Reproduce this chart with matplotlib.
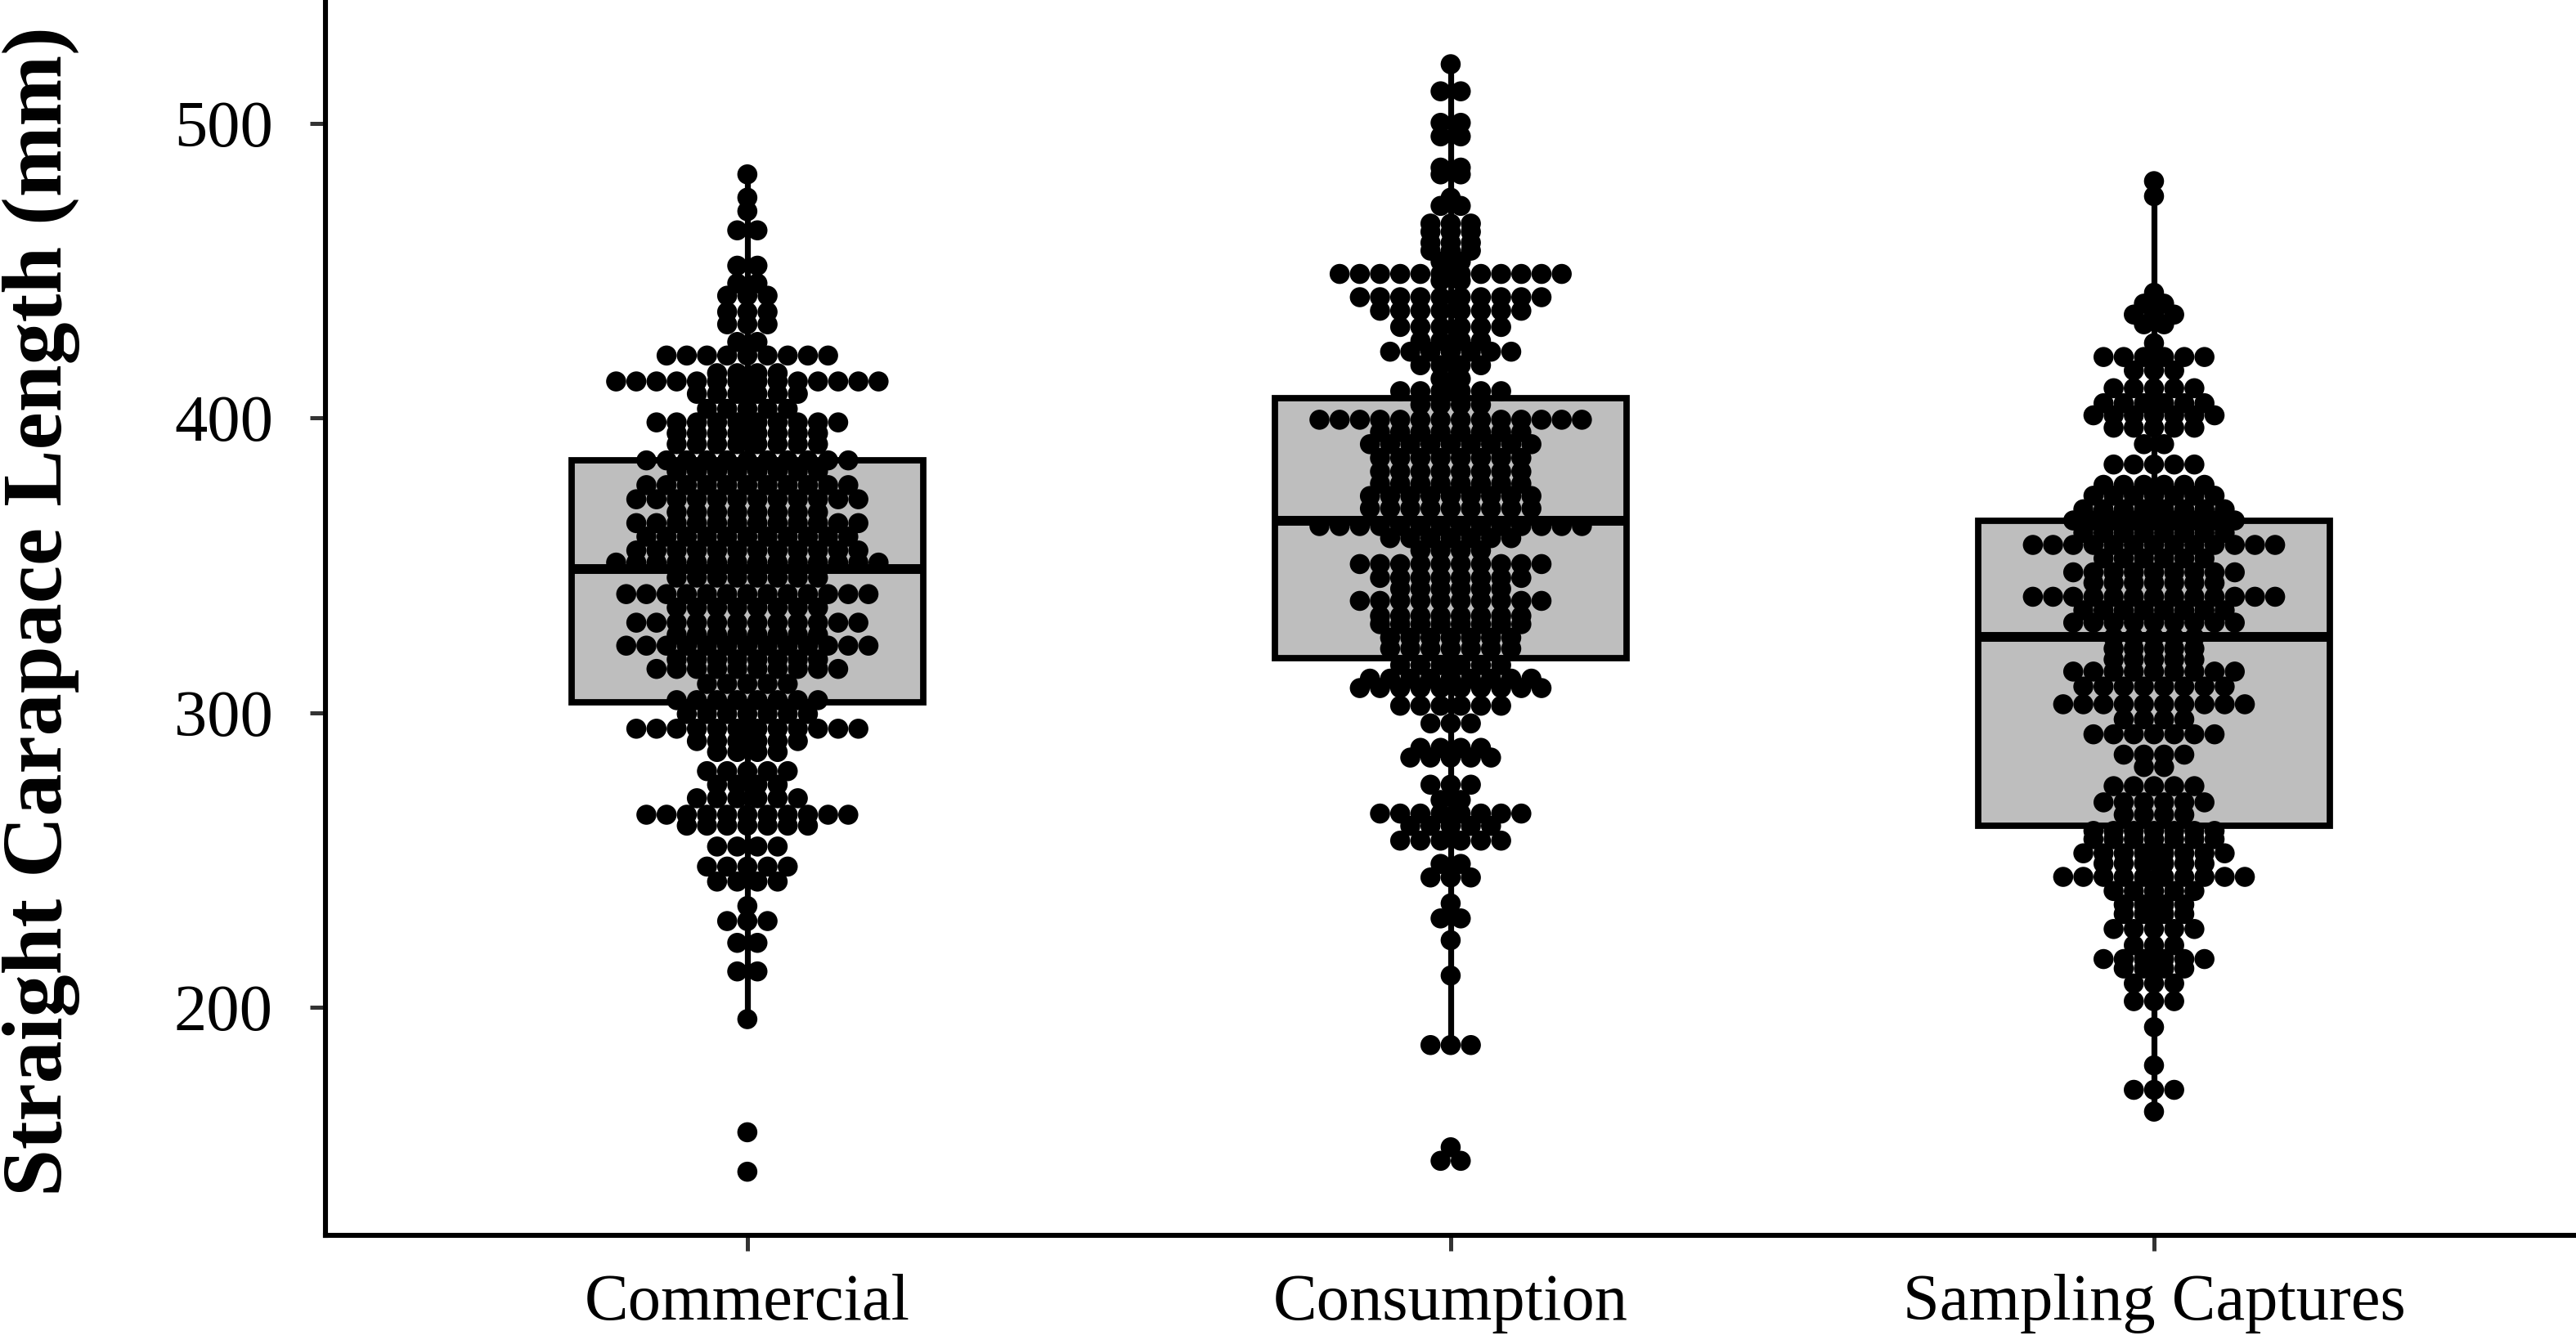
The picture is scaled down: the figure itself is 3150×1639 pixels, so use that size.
import numpy as np
import matplotlib
matplotlib.use("Agg")
import matplotlib.pyplot as plt
from matplotlib.patches import Rectangle

plt.rcParams['font.family'] = ['Liberation Serif', 'DejaVu Serif']

groups = ["Commercial", "Consumption", "Sampling Captures"]

# box summaries (mm)
q1 = [303.5, 318.5, 261.5]
median = [348.6, 365.2, 325.6]
q3 = [385.5, 406.8, 365.2]
whisk_lo = [195.9, 187.1, 164.5]
whisk_hi = [482.7, 520.1, 480.4]

# dot rows: y value of each stack and number of dots in it
commercial_rows = [482.7, 474.8, 470.2, 463.7, 451.7, 445.7, 441.5, 436.0, 431.8, 425.8,
                   421.2, 415.2, 412.4, 408.2, 403.1, 398.5, 394.8, 391.1, 385.6, 381.9,
                   377.2, 372.4, 368.0, 364.3, 359.7, 355.0, 350.9, 345.8, 340.2, 335.6,
                   330.5, 326.4, 322.7, 318.0, 314.8, 309.7, 304.2, 299.5, 294.5, 290.3,
                   286.6, 280.1, 275.5, 270.9, 265.3, 261.6, 254.5, 247.7, 242.6, 234.3,
                   229.2, 221.8, 212.1, 195.9, 157.5, 144.1]
commercial_counts = [1, 1, 1, 2, 2, 2, 3, 3, 3, 2,
                     9, 4, 14, 6, 5, 10, 8, 8, 11, 8,
                     11, 12, 8, 12, 11, 12, 14, 8, 13, 8,
                     12, 8, 13, 8, 10, 5, 8, 7, 12, 6,
                     4, 5, 4, 6, 11, 7, 4, 5, 4, 1,
                     3, 2, 2, 1, 1, 1]

consumption_rows = [520.1, 510.9, 500.2, 495.6, 485.0, 482.7, 474.8, 472.0, 466.0, 463.2,
                    459.5, 456.8, 453.1, 448.9, 446.6, 441.0, 436.4, 430.9, 426.2, 422.5,
                    417.9, 413.3, 409.1, 404.5, 399.4, 395.2, 391.1, 386.4, 381.8, 377.7,
                    373.5, 369.3, 363.3, 359.2, 355.0, 350.4, 345.7, 342.0, 337.9, 332.8,
                    330.0, 325.4, 321.7, 316.1, 311.5, 308.3, 302.3, 296.3, 288.0, 284.7,
                    275.5, 270.3, 265.7, 261.5, 256.5, 248.6, 244.0, 235.2, 230.1, 222.7,
                    210.7, 187.1, 152.4, 147.8]
consumption_counts = [1, 2, 2, 2, 2, 2, 1, 2, 3, 3,
                      3, 3, 2, 12, 2, 10, 8, 6, 4, 7,
                      4, 2, 6, 4, 14, 8, 9, 8, 8, 8,
                      9, 9, 14, 7, 4, 10, 8, 6, 10, 8,
                      8, 7, 7, 6, 9, 10, 6, 3, 4, 5,
                      3, 2, 8, 5, 6, 2, 3, 1, 2, 1,
                      1, 3, 1, 2]

sampling_rows = [480.4, 475.3, 442.5, 438.8, 435.1, 431.8, 425.4, 420.7, 416.1, 410.1,
                 405.0, 400.9, 396.7, 391.1, 384.2, 377.3, 373.6, 369.0, 365.2, 361.0,
                 356.9, 352.3, 347.6, 344.0, 339.3, 334.7, 330.5, 325.5, 321.7, 318.0,
                 313.9, 308.8, 302.8, 297.7, 292.6, 285.7, 281.5, 275.0, 269.5, 265.3,
                 259.8, 257.0, 252.2, 248.7, 244.2, 239.4, 234.8, 231.6, 226.5, 221.0,
                 216.3, 213.1, 208.0, 202.0, 193.2, 180.2, 171.9, 164.5]
sampling_counts = [1, 1, 1, 2, 3, 2, 1, 6, 3, 5,
                   6, 7, 5, 2, 5, 6, 7, 8, 9, 8,
                   13, 6, 9, 7, 13, 8, 9, 5, 5, 5,
                   9, 8, 10, 4, 7, 4, 2, 5, 6, 4,
                   7, 7, 8, 6, 10, 5, 4, 4, 5, 3,
                   6, 4, 3, 3, 1, 1, 3, 1]

all_rows = [commercial_rows, consumption_rows, sampling_rows]
all_counts = [commercial_counts, consumption_counts, sampling_counts]

fig = plt.figure(figsize=(15.75, 8.195), dpi=200)
ax = fig.add_axes([0.1263, 0.0781, 0.8737, 0.9219])

box_w = 0.5
dot_step = 0.0287   # horizontal distance between dots in a stack (x units)

for i in range(len(groups)):
    xc = i + 1
    # whiskers
    ax.plot([xc, xc], [whisk_lo[i], q1[i]], color='black', lw=2.6, zorder=1, solid_capstyle='butt')
    ax.plot([xc, xc], [q3[i], whisk_hi[i]], color='black', lw=2.6, zorder=1, solid_capstyle='butt')
    box = Rectangle((xc - box_w / 2, q1[i]), box_w, q3[i] - q1[i],
                    facecolor='#bebebe', edgecolor='black', lw=2.8, zorder=2)
    ax.add_patch(box)
    ax.plot([xc - box_w / 2, xc + box_w / 2], [median[i], median[i]],
            color='black', lw=4.3, zorder=3, solid_capstyle='butt')

    # centred dot stacks
    xs = []
    ys = []
    for yv, n in zip(all_rows[i], all_counts[i]):
        offs = (np.arange(n) - (n - 1) / 2) * dot_step
        xs.extend(xc + offs)
        ys.extend([yv] * n)
    ax.scatter(xs, ys, s=78, color='black', edgecolors='none', zorder=4)

ax.set_xlim(0.4, 3.6)
ax.set_ylim(122.5, 541.9)
ax.set_xticks([1, 2, 3])
ax.set_xticklabels(groups)
ax.set_yticks([200, 300, 400, 500])

for side in ['top', 'right']:
    ax.spines[side].set_visible(False)
for side in ['left', 'bottom']:
    ax.spines[side].set_linewidth(2.2)
    ax.spines[side].set_color('black')

ax.tick_params(axis='both', length=7, width=1.8, color='#333333', labelsize=29, labelcolor='black')
ax.tick_params(axis='y', pad=16)
ax.tick_params(axis='x', pad=10)

ax.set_ylabel("Straight Carapace Length (mm)", fontsize=37.5, fontweight='bold')
ax.yaxis.set_label_coords(-0.109, 0.505)

fig.savefig("out.png", dpi=200)
